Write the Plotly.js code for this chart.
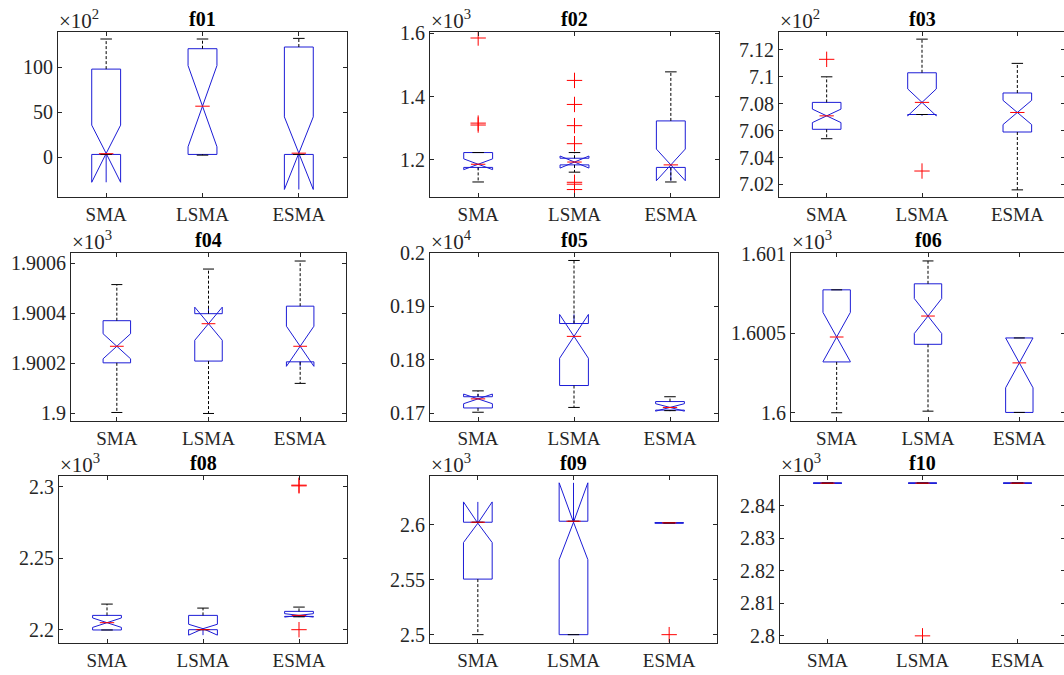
<!DOCTYPE html>
<html>
<head>
<meta charset="utf-8">
<script src="https://cdn.plot.ly/plotly-3.0.1.min.js"></script>
<style>
html,body{margin:0;padding:0;overflow:hidden;background:#fff;}
#chart{width:1070px;height:675px;}
</style>
</head>
<body>
<div id="chart"></div>
<script>
// ---------------- data ----------------
const categories = ['SMA', 'LSMA', 'ESMA'];
const panelTitles = ['f01', 'f02', 'f03', 'f04', 'f05', 'f06', 'f08', 'f09', 'f10'];
const exponents = [2, 3, 2, 3, 4, 3, 3, 3, 3];

// values as displayed on each axis (already divided by 10^exponent)
const lowerWhisker = [
  [3.0, 2.2, 3.0],
  [1.130, 1.161, 1.130],
  [7.054, 7.072, 7.016],
  [1.900004, 1.900000, 1.900120],
  [0.1702, 0.1711, 0.1705],
  [1.600000, 1.600010, 1.600002],
  [2.1998, 2.2000, 2.2090],
  [2.5000, 2.5000, 2.6018],
  [2.847, 2.847, 2.847]
];
const q1Values = [
  [3.0, 3.0, 3.0],
  [1.176, 1.184, 1.176],
  [7.061, 7.072, 7.059],
  [1.900202, 1.900209, 1.900206],
  [0.1710, 0.1752, 0.1706],
  [1.600320, 1.600431, 1.600002],
  [2.1998, 2.2000, 2.2093],
  [2.5506, 2.5000, 2.6018],
  [2.847, 2.847, 2.847]
];
const medianValues = [
  [3.8, 56.7, 4.4],
  [1.186, 1.193, 1.184],
  [7.071, 7.081, 7.0735],
  [1.900268, 1.900358, 1.900268],
  [0.1727, 0.1844, 0.1711],
  [1.600477, 1.600609, 1.600314],
  [2.2049, 2.2000, 2.2100],
  [2.6024, 2.6033, 2.6018],
  [2.847, 2.847, 2.847]
];
const q3Values = [
  [98.0, 120.7, 122.6],
  [1.223, 1.205, 1.323],
  [7.081, 7.103, 7.088],
  [1.900370, 1.900398, 1.900428],
  [0.1731, 0.1868, 0.1722],
  [1.600774, 1.600812, 1.600471],
  [2.2100, 2.2100, 2.2128],
  [2.6024, 2.6033, 2.6018],
  [2.847, 2.847, 2.847]
];
const upperWhisker = [
  [131.5, 131.5, 132.2],
  [1.223, 1.223, 1.478],
  [7.100, 7.128, 7.110],
  [1.900514, 1.900576, 1.900608],
  [0.1742, 0.1986, 0.1731],
  [1.600774, 1.600956, 1.600471],
  [2.2179, 2.2151, 2.2158],
  [2.6024, 2.6033, 2.6018],
  [2.847, 2.847, 2.847]
];
const notchSpans = [
  [31.8, 45.2, 40.4],
  [0.017, 0.019, 0.050],
  [0.005, 0.010, 0.009],
  [0.000050, 0.000066, 0.000080],
  [0.0009, 0.0041, 0.0007],
  [0.000155, 0.000110, 0.000157],
  [0.0033, 0.0038, 0.0012],
  [0.0185, 0.0350, 0.0],
  [0.0, 0.0, 0.0]
];
const outliers = [
  [[], [], []],
  [[1.585, 1.316, 1.310], [1.451, 1.375, 1.308, 1.251, 1.129, 1.123, 1.106], []],
  [[7.113], [7.030], []],
  [[], [], []],
  [[], [], []],
  [[], [], []],
  [[], [], [2.2000, 2.3005, 2.3010]],
  [[], [], [2.5000]],
  [[], [2.8000], []]
];
const yTickValues = [
  [0, 50, 100],
  [1.2, 1.4, 1.6],
  [7.02, 7.04, 7.06, 7.08, 7.1, 7.12],
  [1.9, 1.9002, 1.9004, 1.9006],
  [0.17, 0.18, 0.19, 0.2],
  [1.6, 1.6005, 1.601],
  [2.2, 2.25, 2.3],
  [2.5, 2.55, 2.6],
  [2.8, 2.81, 2.82, 2.83, 2.84]
];
const yTickLabels = [
  ['0', '50', '100'],
  ['1.2', '1.4', '1.6'],
  ['7.02', '7.04', '7.06', '7.08', '7.1', '7.12'],
  ['1.9', '1.9002', '1.9004', '1.9006'],
  ['0.17', '0.18', '0.19', '0.2'],
  ['1.6', '1.6005', '1.601'],
  ['2.2', '2.25', '2.3'],
  ['2.5', '2.55', '2.6'],
  ['2.8', '2.81', '2.82', '2.83', '2.84']
];
const yRanges = [
  [-44.4, 139.3],
  [1.0825, 1.604],
  [7.0107, 7.1333],
  [1.89997, 1.90064],
  [0.16856, 0.2],
  [1.599948, 1.601006],
  [2.1907, 2.3074],
  [2.4924, 2.6445],
  [2.7978, 2.8492]
];

// ---------------- layout geometry (pixels: left, right, top, bottom) ----------------
const W = 1070, H = 675;
const axesBoxes = [
  [58, 347, 32, 197], [430, 719, 32, 197], [779, 1065, 32, 197],
  [71, 346, 253, 421], [430, 718, 253, 421], [791, 1065, 253, 421],
  [59, 347, 476, 643], [430, 717, 476, 643], [780, 1065, 476, 643]
];
const BOX_W = 0.3, NOTCH_W = 0.5, CAP_HALF = 0.06;
const FONT = 'Liberation Serif';
const AX = '#262626';
const BOX_COLOR = '#1c1cd6';

const traces = [];
const layout = {
  width: W, height: H,
  margin: {l: 0, r: 0, t: 0, b: 0},
  paper_bgcolor: '#ffffff', plot_bgcolor: '#ffffff',
  showlegend: false,
  boxgap: 0, boxgroupgap: 0,
  font: {family: FONT, size: 19, color: AX},
  annotations: []
};

const axisCommon = {
  showline: true, linecolor: AX, linewidth: 1, mirror: 'allticks',
  ticks: 'inside', ticklen: 4, tickwidth: 1, tickcolor: AX,
  showgrid: false, zeroline: false, fixedrange: true
};

panelTitles.forEach((title, p) => {
  const s = p === 0 ? '' : String(p + 1);
  const xa = 'x' + s, ya = 'y' + s;
  const [l, r, t, b] = axesBoxes[p];
  layout['xaxis' + s] = Object.assign({}, axisCommon, {
    domain: [l / W, r / W], anchor: ya, range: [0.5, 3.5],
    tickmode: 'array', tickvals: [1, 2, 3], ticktext: categories,
    tickfont: {family: FONT, size: 19, color: AX}
  });
  layout['yaxis' + s] = Object.assign({}, axisCommon, {
    domain: [(H - b) / H, (H - t) / H], anchor: xa, range: yRanges[p],
    tickmode: 'array', tickvals: yTickValues[p], ticktext: yTickLabels[p],
    tickfont: {family: FONT, size: 20, color: AX}
  });

  traces.push({
    type: 'box', xaxis: xa, yaxis: ya,
    x: [1, 2, 3],
    q1: q1Values[p], median: medianValues[p], q3: q3Values[p],
    lowerfence: q1Values[p], upperfence: q3Values[p],
    notchspan: notchSpans[p], notched: true, notchwidth: NOTCH_W,
    width: BOX_W, whiskerwidth: 0, boxpoints: false,
    fillcolor: 'rgba(0,0,0,0)', line: {color: BOX_COLOR, width: 1},
    hoverinfo: 'skip'
  });

  const wx = [], wy = [], cx = [], cy = [], mx = [], my = [], ox = [], oy = [];
  for (let i = 0; i < 3; i++) {
    const xc = i + 1;
    if (upperWhisker[p][i] > q3Values[p][i]) { wx.push(xc, xc, null); wy.push(q3Values[p][i], upperWhisker[p][i], null); }
    if (lowerWhisker[p][i] < q1Values[p][i]) { wx.push(xc, xc, null); wy.push(q1Values[p][i], lowerWhisker[p][i], null); }
    cx.push(xc - CAP_HALF, xc + CAP_HALF, null, xc - CAP_HALF, xc + CAP_HALF, null);
    cy.push(upperWhisker[p][i], upperWhisker[p][i], null, lowerWhisker[p][i], lowerWhisker[p][i], null);
    const mh = BOX_W / 2 * (1 - NOTCH_W);
    mx.push(xc - mh, xc + mh, null);
    my.push(medianValues[p][i], medianValues[p][i], null);
    outliers[p][i].forEach(v => { ox.push(xc); oy.push(v); });
  }
  traces.push({type: 'scatter', mode: 'lines', xaxis: xa, yaxis: ya, x: wx, y: wy,
    line: {color: '#000000', width: 1, dash: '3px,2px'}, hoverinfo: 'skip'});
  traces.push({type: 'scatter', mode: 'lines', xaxis: xa, yaxis: ya, x: cx, y: cy,
    line: {color: '#000000', width: 1}, hoverinfo: 'skip'});
  traces.push({type: 'scatter', mode: 'lines', xaxis: xa, yaxis: ya, x: mx, y: my,
    line: {color: '#ff0000', width: 1}, hoverinfo: 'skip'});
  traces.push({type: 'scatter', mode: 'markers', xaxis: xa, yaxis: ya, x: ox, y: oy,
    marker: {symbol: 'cross-thin-open', size: 11, color: '#ff0000', line: {color: '#ff0000', width: 1}}, hoverinfo: 'skip'});

  layout.annotations.push({
    xref: 'paper', yref: 'paper', x: (l + r) / 2 / W, y: (H - t) / H,
    xanchor: 'center', yanchor: 'bottom', showarrow: false,
    text: '<b>' + title + '</b>', font: {family: FONT, size: 20, color: '#000000'}
  });
  layout.annotations.push({
    xref: 'paper', yref: 'paper', x: l / W, y: (H - t) / H,
    xanchor: 'left', yanchor: 'bottom', yshift: -3, xshift: -1, showarrow: false,
    text: '×10<sup>' + exponents[p] + '</sup>', font: {family: FONT, size: 21, color: AX}
  });
});

Plotly.newPlot('chart', traces, layout, {displayModeBar: false, staticPlot: true});
</script>
</body>
</html>
